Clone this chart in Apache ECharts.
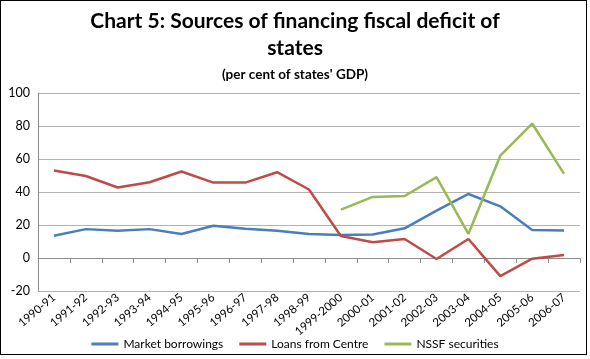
<!DOCTYPE html>
<html><head><meta charset="utf-8">
<script src="https://cdn.jsdelivr.net/npm/echarts@6/dist/echarts.min.js"></script>
<style>html,body{margin:0;padding:0;background:#fff;}#c{width:590px;height:359px;box-sizing:border-box;}
#frame{position:absolute;left:0;top:0;width:587px;height:355px;border:1px solid #000;box-sizing:border-box;pointer-events:none;}</style>
</head><body><div id="c"></div><div id="frame"></div>
<script>
const categories=['1990-91','1991-92','1992-93','1993-94','1994-95','1995-96','1996-97','1997-98','1998-99','1999-2000','2000-01','2001-02','2002-03','2003-04','2004-05','2005-06','2006-07'];
const marketBorrowings=[13.5,17.5,16.5,17.5,14.5,19.5,17.8,16.5,14.5,14,14.3,18,28.7,38.8,31.3,17,16.6];
const loansFromCentre=[53,49.7,42.7,45.9,52.4,45.7,45.7,52,41.5,13.3,9.5,11.5,-0.6,11.5,-11,-0.4,1.8];
const nssfSecurities=[null,null,null,null,null,null,null,null,null,29.3,37,37.6,49,14.6,62,81.5,51];
const yTicks={min:-20,max:100,interval:20};
const chart=echarts.init(document.getElementById('c'));
const font="Lato, 'Open Sans', sans-serif";
chart.setOption({
  animation:false,
  title:[{text:'Chart 5: Sources of financing fiscal deficit of\nstates',left:'center',top:3,textStyle:{fontFamily:font,fontSize:21,fontWeight:'bold',color:'#000',lineHeight:27}},
         {text:"(per cent of states' GDP)",left:'center',top:63,textStyle:{fontFamily:font,fontSize:13.5,fontWeight:'bold',color:'#000'}}],
  grid:{left:38,right:10,top:93,bottom:68},
  legend:{bottom:4,left:'center',itemWidth:27,itemHeight:3,itemGap:16,icon:'rect',textStyle:{fontFamily:font,fontSize:12,color:'#000'},
    data:['Market borrowings','Loans from Centre','NSSF securities']},
  xAxis:{type:'category',data:categories,boundaryGap:true,
    axisLine:{onZero:true,lineStyle:{color:'#8c8c8c',width:1}},
    axisTick:{show:true,length:5,lineStyle:{color:'#8c8c8c'}},
    axisLabel:{rotate:40,fontFamily:font,fontSize:11.5,color:'#000',margin:5,interval:0}},
  yAxis:{type:'value',min:yTicks.min,max:yTicks.max,interval:yTicks.interval,
    axisLine:{show:true,lineStyle:{color:'#8c8c8c'}},axisTick:{show:false},
    splitLine:{lineStyle:{color:'#b3b3b3',width:1}},
    axisLabel:{fontFamily:font,fontSize:12.5,color:'#000',margin:8}},
  series:[
    {name:'Market borrowings',type:'line',data:marketBorrowings,symbol:'none',lineStyle:{width:2.5,color:'#4a7ebb'},itemStyle:{color:'#4a7ebb'}},
    {name:'Loans from Centre',type:'line',data:loansFromCentre,symbol:'none',lineStyle:{width:2.5,color:'#be4b48'},itemStyle:{color:'#be4b48'}},
    {name:'NSSF securities',type:'line',data:nssfSecurities,symbol:'none',connectNulls:false,lineStyle:{width:2.5,color:'#98b954'},itemStyle:{color:'#98b954'}}
  ]
});
</script></body></html>
